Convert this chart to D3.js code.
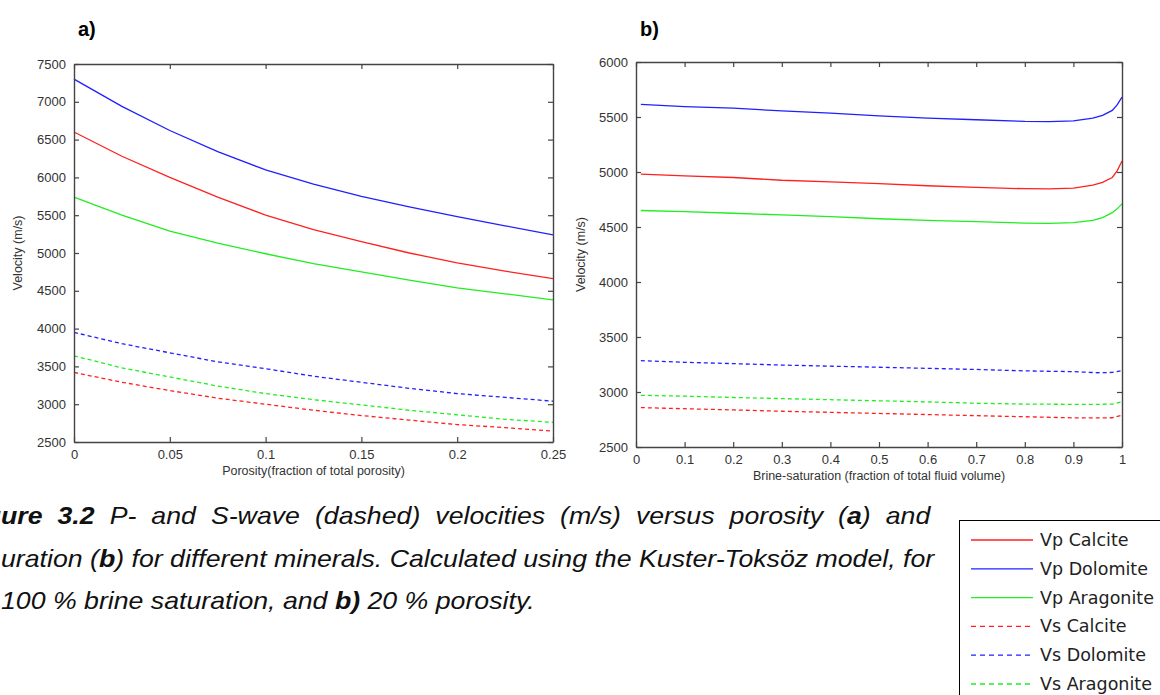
<!DOCTYPE html>
<html>
<head>
<meta charset="utf-8">
<script src="https://cdn.jsdelivr.net/npm/d3@7"></script>
<style>
  body { margin: 0; background: #fff; overflow: hidden; }
  svg { display: block; }
  .tick-label { font-family: "Liberation Sans", Arial, sans-serif; font-size: 13px; fill: #333; }
  .axis-title { font-family: "Liberation Sans", Arial, sans-serif; font-size: 12.5px; fill: #333; }
</style>
</head>
<body>
<div id="chart"></div>
<script>
// ---- data ----
// panel a) velocity versus porosity (100 % brine)
const porosity = [0, 0.025, 0.05, 0.075, 0.1, 0.125, 0.15, 0.175, 0.2, 0.225, 0.25];
const vpCalciteA   = [6600, 6280, 6000, 5740, 5500, 5310, 5150, 5000, 4870, 4760, 4660];
const vpDolomiteA  = [7300, 6940, 6620, 6340, 6100, 5910, 5750, 5610, 5480, 5360, 5240];
const vpAragoniteA = [5740, 5500, 5290, 5130, 4990, 4860, 4750, 4640, 4540, 4460, 4380];
const vsCalciteA   = [3420, 3290, 3180, 3080, 3000, 2920, 2850, 2790, 2730, 2690, 2645];
const vsDolomiteA  = [3950, 3800, 3680, 3560, 3470, 3370, 3290, 3210, 3140, 3090, 3040];
const vsAragoniteA = [3640, 3480, 3360, 3240, 3140, 3060, 2990, 2920, 2860, 2800, 2760];

// panel b) velocity versus brine saturation (20 % porosity)
const satP = [0.01, 0.1, 0.2, 0.3, 0.4, 0.5, 0.6, 0.7, 0.8, 0.85, 0.9, 0.94, 0.96, 0.98, 0.99, 1.0];
const vpCalciteB   = [4980, 4965, 4950, 4925, 4910, 4895, 4875, 4860, 4848, 4846, 4853, 4880, 4905, 4950, 5010, 5100];
const vpDolomiteB  = [5615, 5595, 5580, 5555, 5535, 5510, 5490, 5475, 5460, 5458, 5465, 5490, 5515, 5560, 5610, 5680];
const vpAragoniteB = [4650, 4640, 4625, 4610, 4595, 4575, 4560, 4548, 4535, 4533, 4540, 4560, 4585, 4630, 4665, 4710];
const satS = [0.01, 0.1, 0.2, 0.3, 0.4, 0.5, 0.6, 0.7, 0.8, 0.9, 0.95, 0.98, 1.0];
const vsCalciteB   = [2858, 2848, 2837, 2825, 2815, 2805, 2795, 2785, 2775, 2765, 2765, 2766, 2790];
const vsDolomiteB  = [3285, 3270, 3258, 3245, 3235, 3225, 3215, 3205, 3192, 3185, 3175, 3178, 3195];
const vsAragoniteB = [2970, 2962, 2950, 2940, 2930, 2920, 2910, 2898, 2890, 2888, 2888, 2890, 2910];

const seriesNames = ["Vp Calcite", "Vp Dolomite", "Vp Aragonite", "Vs Calcite", "Vs Dolomite", "Vs Aragonite"];
const seriesColors = ["#ff2020", "#2020ff", "#20ee20", "#ff2020", "#2020ff", "#20ee20"];
const seriesDashed = [false, false, false, true, true, true];

const ticksA = [0, 0.05, 0.1, 0.15, 0.2, 0.25];
const ticksB = [0, 0.1, 0.2, 0.3, 0.4, 0.5, 0.6, 0.7, 0.8, 0.9, 1];

const width = 1160, height = 695;

const svg = d3.select("#chart").append("svg")
    .attr("width", width)
    .attr("height", height);

// draws one MATLAB style panel
function drawPanel(opt) {
    let x = d3.scaleLinear().domain(opt.xDomain).range([opt.x0, opt.x1]);
    let y = d3.scaleLinear().domain(opt.yDomain).range([opt.y1, opt.y0]);
    let g = svg.append("g");

    let line = d3.line().x(d => x(d[0])).y(d => y(d[1]));

    opt.series.forEach((s, i) => {
        g.append("path")
            .datum(s.xs.map((v, j) => [v, s.ys[j]]))
            .attr("fill", "none")
            .attr("stroke", seriesColors[i])
            .attr("stroke-width", 1.3)
            .attr("stroke-dasharray", seriesDashed[i] ? "4,3" : null)
            .attr("d", line);
    });

    // inward ticks on all four sides
    let tl = 5;
    let bottom = d3.axisBottom(x).tickValues(opt.xTicks).tickSizeInner(-tl).tickSizeOuter(0).tickPadding(8)
        .tickFormat(d => d3.format("")(+d.toFixed(2)));
    let top = d3.axisTop(x).tickValues(opt.xTicks).tickSizeInner(-tl).tickSizeOuter(0).tickFormat("");
    let left = d3.axisLeft(y).ticks(opt.yTickCount).tickSizeInner(-tl).tickSizeOuter(0).tickPadding(8)
        .tickFormat(d3.format("d"));
    let right = d3.axisRight(y).ticks(opt.yTickCount).tickSizeInner(-tl).tickSizeOuter(0).tickFormat("");

    let axes = [
        g.append("g").attr("transform", `translate(0,${opt.y1})`).call(bottom),
        g.append("g").attr("transform", `translate(0,${opt.y0})`).call(top),
        g.append("g").attr("transform", `translate(${opt.x0},0)`).call(left),
        g.append("g").attr("transform", `translate(${opt.x1},0)`).call(right)
    ];
    axes.forEach(a => {
        a.select(".domain").attr("stroke", "#444").attr("stroke-width", 1.4);
        a.selectAll(".tick line").attr("stroke", "#444").attr("stroke-width", 1.2);
        a.selectAll(".tick text").attr("class", "tick-label").attr("fill", null);
    });

    g.append("text")
        .attr("class", "axis-title")
        .attr("text-anchor", "middle")
        .attr("transform", `translate(${opt.yTitleX},${(opt.y0 + opt.y1) / 2}) rotate(-90)`)
        .text("Velocity (m/s)");

    g.append("text")
        .attr("class", "axis-title")
        .attr("text-anchor", "middle")
        .attr("x", (opt.x0 + opt.x1) / 2)
        .attr("y", opt.y1 + 33)
        .text(opt.xTitle);

    g.append("text")
        .attr("x", opt.x0 + 4)
        .attr("y", 36)
        .style("font-family", "Liberation Sans, Arial, sans-serif")
        .style("font-weight", "bold")
        .style("font-size", "20px")
        .text(opt.tag);
}

drawPanel({
    x0: 74, x1: 553, y0: 64, y1: 442,
    xDomain: [0, 0.25], yDomain: [2500, 7500], xTicks: ticksA, yTickCount: 10,
    yTitleX: 22, xTitle: "Porosity(fraction of total porosity)", tag: "a)",
    series: [
        {xs: porosity, ys: vpCalciteA}, {xs: porosity, ys: vpDolomiteA}, {xs: porosity, ys: vpAragoniteA},
        {xs: porosity, ys: vsCalciteA}, {xs: porosity, ys: vsDolomiteA}, {xs: porosity, ys: vsAragoniteA}
    ]
});

drawPanel({
    x0: 636, x1: 1122, y0: 62, y1: 447,
    xDomain: [0, 1], yDomain: [2500, 6000], xTicks: ticksB, yTickCount: 7,
    yTitleX: 585, xTitle: "Brine-saturation (fraction of total fluid volume)", tag: "b)",
    series: [
        {xs: satP, ys: vpCalciteB}, {xs: satP, ys: vpDolomiteB}, {xs: satP, ys: vpAragoniteB},
        {xs: satS, ys: vsCalciteB}, {xs: satS, ys: vsDolomiteB}, {xs: satS, ys: vsAragoniteB}
    ]
});

// legend (box runs off the lower right edge)
let legend = svg.append("g");
legend.append("rect")
    .attr("x", 959.5).attr("y", 520.5)
    .attr("width", 220).attr("height", 200)
    .attr("fill", "#fff").attr("stroke", "#000").attr("stroke-width", 1);

seriesNames.forEach((name, i) => {
    let yy = 540 + i * 28.8;
    legend.append("line")
        .attr("x1", 971).attr("x2", 1033)
        .attr("y1", yy).attr("y2", yy)
        .attr("stroke", seriesColors[i])
        .attr("stroke-width", 1.3)
        .attr("stroke-dasharray", seriesDashed[i] ? "5,4" : null);
    legend.append("text")
        .attr("x", 1040).attr("y", yy + 6)
        .style("font-family", "DejaVu Sans, sans-serif")
        .style("font-size", "17.5px")
        .style("fill", "#222")
        .text(name);
});

// caption, cut off at the left edge as in the page
let caption = [
    {y: 524, parts: [["Figure 3.2", "bold", "italic"], [" P- and S-wave (dashed) velocities (m/s) versus porosity (", "normal", "italic"], ["a", "bold", "italic"], [") and", "normal", "italic"]], target: 930, justify: true, hidden: "Fig"},
    {y: 567, parts: [["uration (", "normal", "italic"], ["b", "bold", "italic"], [") for different minerals. Calculated using the Kuster-Toksöz model, for", "normal", "italic"]], target: 934, justify: false, hidden: ""},
    {y: 609, parts: [["100 % brine saturation, and ", "normal", "italic"], ["b)", "bold", "italic"], [" 20 % porosity.", "normal", "italic"]], target: 527, justify: false, hidden: ""}
];

let capText = caption.map(c => {
    let t = svg.append("text")
        .attr("y", 0)
        .style("font-family", "Liberation Sans, Arial, sans-serif")
        .style("font-size", "23px")
        .style("fill", "#111");
    c.parts.forEach(p => {
        t.append("tspan").style("font-weight", p[1]).style("font-style", p[2]).text(p[0]);
    });
    return t;
});

// horizontal squeeze taken from the second line, which is set without extra spacing
let k = caption[1].target / capText[1].node().getComputedTextLength();
caption.forEach((c, i) => {
    let t = capText[i];
    let shift = c.hidden ? t.node().getSubStringLength(0, c.hidden.length) * k : 0;
    if (c.justify) {
        let natural = t.node().getComputedTextLength() * k - shift;
        let gaps = c.parts.map(p => p[0]).join("").split(" ").length - 1;
        t.attr("word-spacing", (c.target - natural) / k / gaps);
    }
    t.attr("transform", `translate(${1 - shift},${c.y}) scale(${k},1)`);
});
</script>
</body>
</html>
